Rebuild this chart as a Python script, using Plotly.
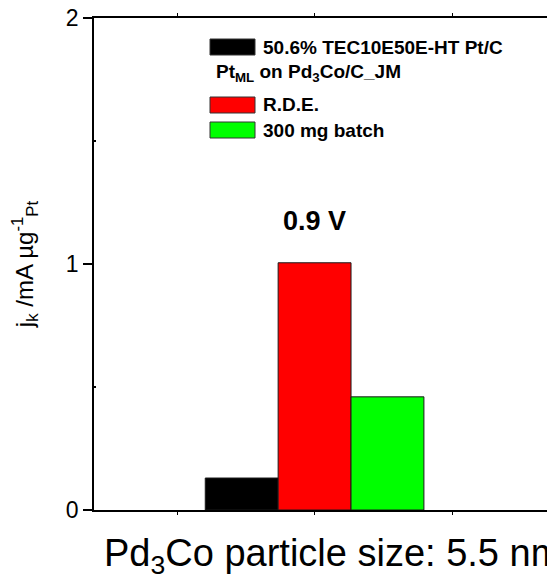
import plotly.graph_objects as go

# ---- data ----
series_names = ["50.6% TEC10E50E-HT Pt/C", "R.D.E.", "300 mg batch"]
series_values = [0.13, 1.005, 0.46]
series_colors = ["#000000", "#ff0000", "#00ff00"]
group_label = "Pt<sub>ML</sub> on Pd<sub>3</sub>Co/C_JM"
category_x = 2
y_ticks = [0, 1, 2]
y_tick_labels = ["0", "1", "2"]
x_ticks = [1, 2, 3]

W, H = 547, 578
L, R, T, B = 94, 0, 18, 68
XR = [0.396, 3.69]
YR = [0, 2]
FONT = "Liberation Sans, Arial, sans-serif"

def px_x(p):
    return (p - L) / (W - L - R)

def px_y(p):
    return 1 - (p - T) / (H - T - B)

bar_w = 0.53
offsets = [-1.5 * bar_w, -0.5 * bar_w, 0.5 * bar_w]

fig = go.Figure()
for name, v, c, off in zip(series_names, series_values, series_colors, offsets):
    fig.add_trace(go.Bar(
        x=[category_x], y=[v], name=name, width=bar_w, offset=off,
        marker=dict(color=c, line=dict(color="#1a1a1a", width=1)),
        showlegend=False, hoverinfo="skip",
    ))

shapes = []
annotations = []
# manual legend
rows = [
    (series_names[0], series_colors[0], 47, 261),
    (group_label, None, 73, 214),
    (series_names[1], series_colors[1], 105, 261),
    (series_names[2], series_colors[2], 130, 261),
]
for text, col, yc, tx in rows:
    if col is not None:
        shapes.append(dict(type="rect", xref="paper", yref="paper",
                           x0=px_x(210), x1=px_x(255), y0=px_y(yc - 8), y1=px_y(yc + 8),
                           fillcolor=col, line=dict(color="#333333", width=1)))
    annotations.append(dict(xref="paper", yref="paper", x=px_x(tx), y=px_y(yc),
                            xanchor="left", yanchor="middle", showarrow=False,
                            text="<b>%s</b>" % text,
                            font=dict(family=FONT, size=19, color="black")))

annotations.append(dict(xref="x", yref="y", x=category_x, y=(510 - 221) / 246,
                        xanchor="center", yanchor="middle", showarrow=False,
                        text="<b>0.9 V</b>", font=dict(family=FONT, size=27, color="black")))

annotations.append(dict(xref="paper", yref="paper", x=px_x(102), y=px_y(556),
                        xanchor="left", yanchor="middle", showarrow=False,
                        text="Pd<sub>3</sub>Co particle size: 5.5 nm",
                        font=dict(family=FONT, size=38, color="black")))

fig.update_layout(
    width=W, height=H,
    margin=dict(l=L, r=R, t=T, b=B, pad=0),
    paper_bgcolor="white", plot_bgcolor="white",
    shapes=shapes, annotations=annotations,
    barmode="overlay",
    font=dict(family=FONT, color="black"),
)
fig.update_xaxes(range=XR, tickvals=x_ticks, showticklabels=False, ticks="outside",
                 ticklen=3, tickwidth=1, tickcolor="black", showline=True, linecolor="black",
                 linewidth=1.5, mirror="ticks", showgrid=False, zeroline=False)
fig.update_yaxes(range=YR, tickvals=y_ticks, ticktext=y_tick_labels, ticks="outside",
                 ticklen=9, tickwidth=1.5, tickcolor="black", showline=True, linecolor="black",
                 linewidth=1.5, showgrid=False, zeroline=False,
                 tickfont=dict(family=FONT, size=23, color="black"),
                 minor=dict(tickvals=[0.5, 1.5], ticks="inside", ticklen=2, tickcolor="black"),
                 title=dict(text="j<sub>k</sub> /mA µg<sup>-1</sup><sub>Pt</sub>", standoff=25,
                            font=dict(family=FONT, size=24, color="black")))

fig.write_html("out.html", config={"displayModeBar": False},
               post_script="document.body.style.margin='0';document.body.style.overflow='hidden';")
